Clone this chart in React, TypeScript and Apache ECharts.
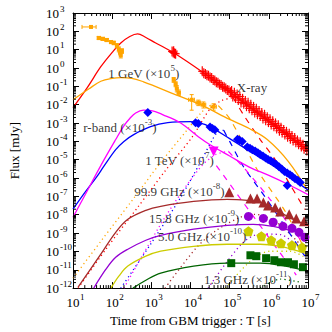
import React, { useEffect, useRef } from "react";
import * as echarts from "echarts";

const FONT = "Liberation Serif";
const RED = "#ff0000";
const ORANGE = "#ffa500";
const BLUE = "#0000ff";
const MAGENTA = "#ff00ff";
const BROWN = "#a52a2a";
const PURPLE = "#9400d3";
const YELLOW = "#cccc00";
const GREEN = "#006400";

// All pairs below as [log10 T(s), log10 F(mJy)]
const xrayModel = [[1, -2.16], [1.36, -1.08], [1.71, 0.07], [2.0, 0.85], [2.22, 1.37], [2.45, 1.72], [2.65, 1.86], [2.85, 1.68], [3.1, 1.38], [3.57, 0.83], [4.33, -0.26], [5, -1.32], [6, -2.91], [7, -4.5]];
const gevModel = [[1, -1.73], [1.41, -1.13], [1.71, -0.72], [2.0, -0.56], [2.22, -0.52], [2.5, -0.56], [2.8, -0.75], [3.1, -1.0], [3.5, -1.35], [4.25, -2.0], [5.0, -2.8], [5.5, -3.3], [5.96, -3.9], [6.5, -5.1], [7.0, -6.7]];
const rbandModel = [[1, -7.7], [1.3, -6.8], [1.6, -5.95], [1.79, -5.35], [2.09, -4.45], [2.3, -4.0], [2.55, -3.63], [2.98, -3.2], [3.42, -2.98], [4.0, -2.92], [4.38, -3.09], [5.0, -3.85], [5.52, -4.55], [6.2, -5.45], [6.8, -6.35], [7, -6.65]];
const tevModel = [[1, -8.14], [1.3, -6.95], [1.71, -5.32], [2.09, -3.9], [2.3, -3.15], [2.45, -2.75], [2.6, -2.45], [2.8, -2.3], [3.0, -2.32], [3.3, -2.55], [3.75, -3.0], [4.2, -3.75], [4.51, -4.2], [5.0, -4.8], [5.5, -5.4], [6.0, -5.85], [6.5, -6.35], [7, -6.9]];
const ghz999Model = [[1.13, -11.95], [1.71, -10.15], [2.09, -8.96], [2.4, -8.25], [2.86, -7.76], [3.24, -7.54], [4.08, -7.27], [4.94, -7.16], [5.45, -7.22], [5.78, -7.33], [6.16, -7.71], [6.62, -8.25], [7, -8.58]];
const ghz158Model = [[1.53, -12], [1.84, -10.97], [2.09, -10.32], [2.4, -9.88], [2.86, -9.39], [3.24, -9.12], [4.08, -8.79], [4.94, -8.58], [5.6, -8.52], [6.11, -8.63], [6.62, -8.9], [7, -9.17]];
const ghz50Model = [[1.97, -12], [2.17, -11.35], [2.4, -10.8], [2.86, -10.26], [3.24, -9.99], [4.08, -9.72], [4.94, -9.61], [5.78, -9.61], [6.29, -9.72], [6.67, -9.93], [7, -10.15]];
const ghz13Model = [[2.53, -12], [2.86, -11.57], [3.24, -11.18], [4.08, -10.8], [4.94, -10.64], [5.78, -10.64], [6.42, -10.8], [7, -11.08]];

// dotted (rising) components
const gevDotted = [[1.0, -11.46], [1.71, -9.45], [2.53, -7.16], [3.24, -5.15], [3.92, -3.36], [4.25, -2.49], [4.51, -2.05], [4.71, -2.05]];
const xrayDotted = [[1.13, -12.0], [1.84, -9.88], [2.65, -7.6], [3.36, -5.59], [4.05, -3.74], [4.51, -2.2], [4.81, -1.76], [5.09, -1.62]];
const rbandDotted = [[2.22, -12.0], [2.98, -9.61], [3.75, -7.05], [4.25, -5.15], [4.56, -3.9], [4.71, -3.45], [4.85, -3.4]];
const tevDotted = [[2.3, -12], [3.36, -8.1], [4.25, -5.42], [4.64, -4.72], [4.97, -4.55]];
const ghz999Dotted = [[3.35, -12], [4.15, -9.8], [4.66, -8.85], [5.27, -8.14], [5.65, -7.98], [6.16, -8.36], [6.8, -9.61]];
const ghz158Dotted = [[4.45, -12], [5.3, -9.6], [5.78, -9.05], [6.29, -9.08], [6.8, -9.85]];
const ghz50Dotted = [[4.89, -12], [5.53, -10.53], [6.03, -9.99], [6.54, -9.99], [6.92, -10.32]];
const ghz13Dotted = [[5.78, -12], [6.29, -11.51], [6.8, -11.68]];
// dashed (decaying) components
const gevDashed = [[4.71, -2.05], [5.02, -2.82], [5.73, -5.64], [6.42, -7.82], [6.85, -9.61]];
const xrayDashed = [[5.09, -1.62], [5.35, -2.54], [5.78, -3.9], [6.16, -4.99], [6.54, -6.35], [6.92, -7.71]];
const rbandDashed = [[4.85, -3.4], [5.0, -4.0], [5.35, -5.37], [5.96, -7.2], [6.92, -10.26]];
const tevDashed = [[4.97, -4.55], [5.4, -5.53], [6.03, -7.16], [6.8, -9.34]];
const tevSteep = [[4.66, -5.32], [6.7, -11.29]];

// observations
const xrayData = [
  [3.53, 0.9], [3.56, 0.85], [3.59, 0.8], [3.62, 0.78], [3.57, 0.92],
  [4.30, -0.18], [4.34, -0.28], [4.38, -0.32], [4.42, -0.40], [4.46, -0.42], [4.50, -0.52], [4.54, -0.55], [4.58, -0.65], [4.62, -0.68], [4.66, -0.78], [4.70, -0.80], [4.74, -0.90], [4.78, -0.92], [4.82, -1.02], [4.86, -1.05], [4.90, -1.12], [4.94, -1.20], [4.98, -1.22], [5.02, -1.32],
  [5.05, -1.25], [5.08, -1.55], [5.12, -1.35], [5.15, -1.62], [5.19, -1.45], [5.22, -1.75], [5.26, -1.55], [5.29, -1.88], [5.33, -1.68], [5.36, -1.95], [5.40, -1.80], [5.43, -2.08], [5.47, -1.90], [5.50, -2.20], [5.54, -2.0], [5.57, -2.30], [5.61, -2.12], [5.64, -2.42], [5.68, -2.22], [5.71, -2.52], [5.75, -2.35], [5.78, -2.62], [5.82, -2.45], [5.85, -2.75], [5.89, -2.55], [5.92, -2.85], [5.96, -2.68], [5.99, -2.95], [6.03, -2.80], [6.06, -3.08], [6.10, -2.90], [6.13, -3.18], [6.17, -3.02], [6.20, -3.30], [6.24, -3.12], [6.27, -3.42], [6.31, -3.25], [6.34, -3.52], [6.38, -3.38], [6.41, -3.62], [6.45, -3.48], [6.48, -3.75], [6.52, -3.58], [6.55, -3.85], [6.59, -3.70], [6.62, -3.95], [6.66, -3.82], [6.69, -4.05], [6.73, -3.95], [6.76, -4.15], [6.80, -4.05], [6.83, -4.28], [6.87, -4.18], [6.90, -4.40], [6.94, -4.30], [6.97, -4.5],
];
// [logT, logF, logT_lo, logT_hi, logF_lo, logF_hi]
const gevData = [
  [1.46, 2.24, 1.23, 1.59, 2.19, 2.29],
  [1.66, 1.64, 1.62, 1.70, 1.55, 1.72],
  [1.76, 1.59, 1.72, 1.80, 1.50, 1.67],
  [1.86, 1.53, 1.82, 1.90, 1.44, 1.61],
  [1.97, 1.42, 1.93, 2.01, 1.33, 1.50],
  [2.04, 1.37, 2.01, 2.07, 1.27, 1.46],
  [2.12, 1.22, 2.09, 2.15, 1.10, 1.33],
  [2.17, 1.02, 2.15, 2.19, 0.88, 1.15],
  [2.20, 0.86, 2.18, 2.22, 0.72, 0.99],
  [2.22, 0.70, 2.20, 2.24, 0.55, 0.84],
  [2.25, 0.93, 2.23, 2.27, 0.80, 1.05],
  [3.57, -0.64, 3.54, 3.60, -0.78, -0.52],
  [3.62, -0.88, 3.59, 3.65, -1.02, -0.75],
  [3.65, -1.12, 3.62, 3.68, -1.30, -0.96],
  [3.70, -1.35, 3.66, 3.74, -1.50, -1.20],
  [4.03, -1.73, 3.95, 4.10, -2.3, -1.45],
  [4.20, -1.89, 4.14, 4.26, -2.05, -1.75],
  [4.33, -2.0, 4.27, 4.39, -2.18, -1.85],
  [4.59, -2.11, 4.52, 4.66, -2.3, -1.95],
];
const rbandData = [[2.91, -2.43], [4.13, -2.98], [4.2, -3.02], [4.5, -3.22], [4.56, -3.3], [4.62, -3.36], [5.2, -3.88], [5.25, -3.92], [5.32, -4.0], [5.45, -4.3], [5.52, -4.38], [5.58, -4.45], [5.65, -4.52], [5.72, -4.62], [5.78, -4.72], [5.85, -4.8], [5.92, -4.9], [5.98, -4.99], [6.05, -5.06], [6.12, -5.15], [6.19, -5.26], [6.26, -5.38], [6.33, -5.5], [6.4, -5.64], [6.47, -5.72], [6.54, -5.82], [6.6, -5.92], [6.67, -6.04], [6.74, -6.12], [6.8, -6.24], [6.47, -6.4]];
const tevData = [[4.59, -4.55]];
const ghz999Data = [[4.99, -6.78], [5.53, -7.11], [5.7, -7.11], [5.86, -7.33], [5.98, -7.49], [6.16, -7.6], [6.29, -7.82], [6.52, -7.98], [6.7, -8.2], [6.9, -8.36]];
const ghz158Data = [[5.48, -8.09], [5.86, -8.2], [6.11, -8.41], [6.36, -8.63], [6.59, -8.74], [6.77, -8.96], [6.92, -9.23]];
const ghz50Data = [[5.48, -8.9], [5.81, -9.17], [6.06, -9.39], [6.31, -9.55], [6.59, -9.66], [6.85, -9.77]];
const ghz13Data = [[5.04, -10.64], [5.53, -10.21], [5.68, -10.26], [5.93, -10.37], [6.14, -10.48], [6.31, -10.59], [6.49, -10.59], [6.64, -10.7], [6.87, -10.86]];

// annotations: [logT, logF, text]
const annotations: [number, number, string][] = [
  [1.89, -0.315, "{n|1 GeV (×10}{s|5}{n|)}"],
  [5.17, -1.08, "{n|X-ray}"],
  [1.25, -3.25, "{n|r-band (×10}{s|-3}{n|)}"],
  [2.83, -5.04, "{n|1 TeV (×10}{s|7}{n|)}"],
  [2.55, -6.73, "{n|99.9 GHz (×10}{s|-8}{n|)}"],
  [2.93, -8.2, "{n|15.8 GHz (×10}{s|-9}{n|)}"],
  [3.16, -9.17, "{n|5.0 GHz (×10}{s|-10}{n|)}"],
  [4.33, -11.51, "{n|1.3 GHz (×10}{s|-11}{n|)}"],
];

const minorSteps = [2, 3, 4, 5, 6, 7, 8, 9];
const xDecadeStarts = [10, 100, 1e3, 1e4, 1e5, 1e6];
const yDecadeExps = [-12, -11, -10, -9, -8, -7, -6, -5, -4, -3, -2, -1, 0, 1, 2];

const P = (pts: number[][]) => pts.map((r) => r.map((v) => 10 ** v));

const rich = {
  n: { fontFamily: FONT, fontSize: 13, lineHeight: 20, verticalAlign: "middle", color: "#000" },
  s: { fontFamily: FONT, fontSize: 9, lineHeight: 9, verticalAlign: "top", color: "#000" },
};
const expOf = (v: number) => String(Math.round(Math.log10(v)));

function modelLine(data: number[][], color: string) {
  return {
    type: "line", data: P(data), showSymbol: false, smooth: 0.35, clip: true, silent: true,
    lineStyle: { color, width: 1.3 }, z: 2,
  };
}
function dottedLine(data: number[][], color: string) {
  return {
    type: "line", data: P(data), showSymbol: false, smooth: 0.3, clip: true, silent: true,
    lineStyle: { color, width: 1.3, type: [1.2, 3.2] }, z: 1,
  };
}
function dashedLine(data: number[][], color: string) {
  return {
    type: "line", data: P(data), showSymbol: false, smooth: 0.3, clip: true, silent: true,
    lineStyle: { color, width: 1.2, type: [6, 6] }, z: 1,
  };
}
function points(data: number[][], color: string, symbol: string, size: number, rotate = 0) {
  return {
    type: "scatter", data: P(data), symbol, symbolSize: size, symbolRotate: rotate, clip: true, silent: true,
    itemStyle: { color, opacity: 1 }, z: 4,
  };
}

function buildOption() {
  const minorData: number[][] = [];
  xDecadeStarts.forEach((d) => minorSteps.forEach((k) => minorData.push([k * d, 1, 0])));
  yDecadeExps.forEach((e) => minorSteps.forEach((k) => minorData.push([10, k * 10 ** e, 1])));

  const frame = {
    axisLine: { show: true, onZero: false, lineStyle: { color: "#000", width: 1 } },
    axisTick: { show: true, inside: true, length: 6, lineStyle: { color: "#000", width: 1 } },
    splitLine: { show: false },
    minorTick: { show: false },
  };
  const bare = {
    axisLine: { show: false },
    axisTick: { show: false },
    splitLine: { show: false },
    minorTick: { show: false },
  };
  const xLog = { type: "log", logBase: 10, min: 10, max: 1e7, interval: 1 };
  const yLog = { type: "log", logBase: 10, min: 1e-12, max: 1e3, interval: 1 };
  const base = { fontFamily: FONT, fontSize: 13, color: "#000" };
  const sup = { fontFamily: FONT, fontSize: 9, color: "#000" };

  return {
    animation: false,
    backgroundColor: "#fff",
    grid: { left: 72, right: 24, top: 13, bottom: 43, containLabel: false },
    xAxis: [
      {
        ...frame, ...xLog, position: "bottom",
        axisLabel: { ...base, interval: 0, formatter: () => "10", align: "center", verticalAlign: "top", margin: 8 },
        name: "Time from GBM trigger : T [s]", nameLocation: "middle", nameGap: 25,
        nameTextStyle: { fontFamily: FONT, fontSize: 13, color: "#000" },
      },
      { ...frame, ...xLog, position: "top", axisLabel: { show: false } },
      {
        ...bare, ...xLog, position: "bottom",
        axisLabel: { ...sup, interval: 0, formatter: expOf, align: "left", verticalAlign: "top", padding: [0, 0, 0, 7], margin: 4 },
      },
    ],
    yAxis: [
      {
        ...frame, ...yLog, position: "left",
        axisLabel: { ...base, interval: 0, formatter: () => "10", align: "right", verticalAlign: "middle", margin: 14 },
        name: "Flux [mJy]", nameLocation: "middle", nameGap: 52, nameRotate: 90,
        nameTextStyle: { fontFamily: FONT, fontSize: 13, color: "#000" },
      },
      { ...frame, ...yLog, position: "right", axisLabel: { show: false } },
      {
        ...bare, ...yLog, position: "left",
        axisLabel: { ...sup, interval: 0, formatter: expOf, align: "left", verticalAlign: "bottom", margin: 13 },
      },
    ],
    series: [
      {
        type: "custom", silent: true, clip: false, z: 6, data: minorData, encode: { x: 0, y: 1 },
        renderItem: (params: any, api: any) => {
          const cs = params.coordSys;
          const p = api.coord([api.value(0), api.value(1)]);
          const st = { stroke: "#000", lineWidth: 1 };
          if (api.value(2) === 0) {
            const x = p[0];
            return {
              type: "group", children: [
                { type: "line", shape: { x1: x, y1: cs.y + cs.height, x2: x, y2: cs.y + cs.height - 3 }, style: st },
                { type: "line", shape: { x1: x, y1: cs.y, x2: x, y2: cs.y + 3 }, style: st },
              ],
            };
          }
          const y = p[1];
          return {
            type: "group", children: [
              { type: "line", shape: { x1: cs.x, y1: y, x2: cs.x + 3, y2: y }, style: st },
              { type: "line", shape: { x1: cs.x + cs.width, y1: y, x2: cs.x + cs.width - 3, y2: y }, style: st },
            ],
          };
        },
      },
      dottedLine(gevDotted, ORANGE),
      dottedLine(xrayDotted, RED),
      dottedLine(rbandDotted, BLUE),
      dottedLine(tevDotted, MAGENTA),
      dottedLine(ghz999Dotted, BROWN),
      dottedLine(ghz158Dotted, PURPLE),
      dottedLine(ghz50Dotted, YELLOW),
      dottedLine(ghz13Dotted, GREEN),
      dashedLine(gevDashed, ORANGE),
      dashedLine(xrayDashed, RED),
      dashedLine(rbandDashed, BLUE),
      dashedLine(tevDashed, MAGENTA),
      dashedLine(tevSteep, MAGENTA),
      modelLine(xrayModel, RED),
      modelLine(gevModel, ORANGE),
      modelLine(rbandModel, BLUE),
      modelLine(tevModel, MAGENTA),
      modelLine(ghz999Model, BROWN),
      modelLine(ghz158Model, PURPLE),
      modelLine(ghz50Model, YELLOW),
      modelLine(ghz13Model, GREEN),
      {
        type: "custom", silent: true, clip: true, z: 3, data: P(xrayData), encode: { x: 0, y: 1 },
        renderItem: (params: any, api: any) => {
          const p = api.coord([api.value(0), api.value(1)]);
          const st = { stroke: RED, lineWidth: 1.2 };
          return {
            type: "group", children: [
              { type: "line", shape: { x1: p[0] - 4, y1: p[1], x2: p[0] + 4, y2: p[1] }, style: st },
              { type: "line", shape: { x1: p[0], y1: p[1] - 5, x2: p[0], y2: p[1] + 5 }, style: st },
            ],
          };
        },
      },
      {
        type: "custom", silent: true, clip: true, z: 3, data: P(gevData), encode: { x: 0, y: 1 },
        renderItem: (params: any, api: any) => {
          const c = api.coord([api.value(0), api.value(1)]);
          const lo = api.coord([api.value(2), api.value(4)]);
          const hi = api.coord([api.value(3), api.value(5)]);
          const st = { stroke: ORANGE, lineWidth: 1 };
          return {
            type: "group", children: [
              { type: "line", shape: { x1: lo[0], y1: c[1], x2: hi[0], y2: c[1] }, style: st },
              { type: "line", shape: { x1: c[0], y1: lo[1], x2: c[0], y2: hi[1] }, style: st },
              { type: "line", shape: { x1: lo[0], y1: c[1] - 2, x2: lo[0], y2: c[1] + 2 }, style: st },
              { type: "line", shape: { x1: hi[0], y1: c[1] - 2, x2: hi[0], y2: c[1] + 2 }, style: st },
              { type: "line", shape: { x1: c[0] - 2, y1: lo[1], x2: c[0] + 2, y2: lo[1] }, style: st },
              { type: "line", shape: { x1: c[0] - 2, y1: hi[1], x2: c[0] + 2, y2: hi[1] }, style: st },
              { type: "rect", shape: { x: c[0] - 2, y: c[1] - 2, width: 4, height: 4 }, style: { fill: ORANGE } },
            ],
          };
        },
      },
      points(rbandData, BLUE, "diamond", 9),
      points(tevData, MAGENTA, "triangle", 10, 180),
      points(ghz999Data, BROWN, "triangle", 10),
      points(ghz158Data, PURPLE, "circle", 9),
      points(ghz50Data, YELLOW, "path://M0,-10L9.51,-3.09L5.88,8.09L-5.88,8.09L-9.51,-3.09Z", 10),
      points(ghz13Data, GREEN, "rect", 8),
      {
        type: "scatter", silent: true, clip: false, z: 8, symbolSize: 1,
        itemStyle: { color: "rgba(0,0,0,0)" },
        data: annotations.map(([a, b, t]) => ({ value: [10 ** a, 10 ** b], name: t })),
        label: {
          show: true, position: "right", distance: 0, formatter: (p: any) => p.name, rich,
        },
      },
    ],
  };
}

export default function App() {
  const ref = useRef<HTMLDivElement>(null);
  useEffect(() => {
    const chart = echarts.init(ref.current!, null, { renderer: "svg" });
    chart.setOption(buildOption() as any);
    return () => chart.dispose();
  }, []);
  return (
    <div
      ref={ref}
      style={{ position: "absolute", left: 0, top: 0, width: 332, height: 332, background: "#fff" }}
    />
  );
}
